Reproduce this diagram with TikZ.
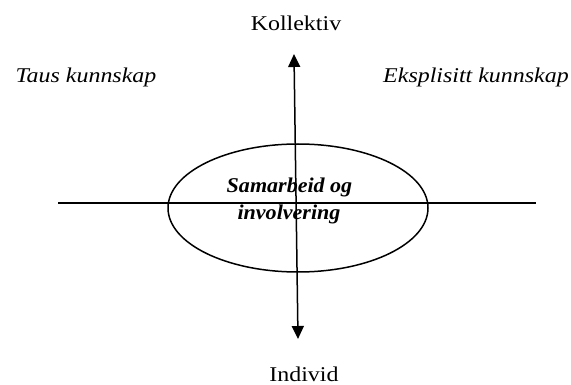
\documentclass[tikz,border=0pt]{standalone}
\usepackage{fontspec}
\setmainfont[FakeStretch=1.14]{Liberation Serif}
\newfontfamily\bifont[FakeStretch=1.05]{Liberation Serif}
\usetikzlibrary{arrows.meta,shapes.geometric}
\begin{document}
\begin{tikzpicture}[x=1pt,y=-1pt,
  lbl/.style={font=\fontsize{21}{25}\selectfont, inner sep=0pt, anchor=base},
  axis/.style={line width=1.5pt},
  arr/.style={axis,-{Triangle[width=12pt,length=13pt]}}]
\useasboundingbox (0,0) rectangle (571,385);
\node[lbl] (kol) at (296,31) {Kollektiv};
\node[lbl] (ind) at (304,381) {Individ};
\node[lbl,font=\fontsize{21}{25}\selectfont\itshape] (taus) at (86,83) {Taus kunnskap};
\node[lbl,font=\fontsize{21}{25}\selectfont\itshape] (eks) at (476,83) {Eksplisitt kunnskap};
\node[draw, axis, ellipse, minimum width=260pt, minimum height=128pt, inner sep=0pt] (ell) at (298,208) {};
\coordinate (hl) at (58,203);
\coordinate (hr) at (536,203);
\coordinate (mid) at (296,196);
\coordinate (top) at (294,54);
\coordinate (bot) at (298,339);
\draw[axis] (hl) -- (hr);
\draw[arr] (mid) -- (top);
\draw[arr] (mid) -- (bot);
\node[lbl,font=\bifont\fontsize{21}{25}\selectfont\bfseries\itshape] (txt1) at (289.5,193) {Samarbeid og};
\node[lbl,font=\bifont\fontsize{21}{25}\selectfont\bfseries\itshape] (txt2) at (289,220) {involvering};
\end{tikzpicture}
\end{document}
